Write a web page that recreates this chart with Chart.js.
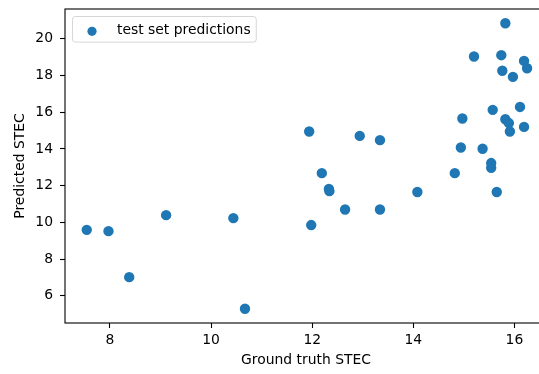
<!DOCTYPE html>
<html>
<head>
<meta charset="utf-8">
<script src="https://cdn.jsdelivr.net/npm/chart.js@4.4.0/dist/chart.umd.min.js"></script>
<style>
  html, body { margin: 0; padding: 0; background: #fff; overflow: hidden; width: 539px; height: 374px; }
  canvas { display: block; }
</style>
</head>
<body>
<canvas id="chart" width="560" height="374"></canvas>
<script>
// Ground truth vs predicted STEC for the test set
const groundTruth = [
  7.54, 7.97, 8.38, 9.11, 10.44, 10.67, 11.94, 11.98, 12.19, 12.33,
  12.34, 12.65, 12.94, 13.34, 13.34, 14.08, 14.82, 14.94, 14.97, 15.20,
  15.37, 15.54, 15.54, 15.57, 15.65, 15.74, 15.76, 15.82, 15.82, 15.89,
  15.91, 15.97, 16.11, 16.19, 16.19, 16.25
];
const predicted = [
  9.59, 9.52, 7.01, 10.39, 10.23, 5.29, 14.95, 9.85, 12.68, 11.82,
  11.70, 10.70, 14.71, 14.48, 10.70, 11.65, 12.68, 14.08, 15.66, 19.04,
  14.01, 13.23, 12.97, 16.13, 11.65, 19.11, 18.26, 20.85, 15.62, 15.41,
  14.95, 17.93, 16.29, 18.80, 15.20, 18.40
];
const xTicks = [8, 10, 12, 14, 16];
const yTicks = [6, 8, 10, 12, 14, 16, 18, 20];
const xLimits = [7.11, 16.644];
const yLimits = [4.512, 21.628];
const seriesLabel = 'test set predictions';
const xTitle = 'Ground truth STEC';
const yTitle = 'Predicted STEC';

const FONT = '"DejaVu Sans", sans-serif';
const FS = 13.9;
const BLUE = '#1f77b4';

// axes box drawn on all four sides, above the points
const frame = {
  id: 'frame',
  afterDatasetsDraw(chart) {
    const { ctx, chartArea: a } = chart;
    ctx.save();
    ctx.strokeStyle = '#000';
    ctx.lineWidth = 1.1;
    ctx.strokeRect(a.left, a.top, a.right - a.left, a.bottom - a.top);
    ctx.restore();
  }
};

// legend box in the upper left corner of the plot area
const innerLegend = {
  id: 'innerLegend',
  afterDraw(chart) {
    const { ctx, chartArea: a } = chart;
    const ds = chart.data.datasets[0];
    ctx.save();
    ctx.font = `${FS}px ${FONT}`;
    const tw = ctx.measureText(ds.label).width;
    const x0 = a.left + 7.5, y0 = a.top + 7.5;
    const w = 5.6 + 27.8 + 11.1 + tw + 5.6;
    const h = 25.6;
    const r = 2.8;
    ctx.beginPath();
    ctx.moveTo(x0 + r, y0);
    ctx.arcTo(x0 + w, y0, x0 + w, y0 + h, r);
    ctx.arcTo(x0 + w, y0 + h, x0, y0 + h, r);
    ctx.arcTo(x0, y0 + h, x0, y0, r);
    ctx.arcTo(x0, y0, x0 + w, y0, r);
    ctx.closePath();
    ctx.fillStyle = 'rgba(255,255,255,0.8)';
    ctx.fill();
    ctx.strokeStyle = 'rgba(204,204,204,0.8)';
    ctx.lineWidth = 1;
    ctx.stroke();
    const cy = y0 + h / 2 + 1;
    ctx.beginPath();
    ctx.arc(x0 + 5.6 + 13.9, cy + 1, 4.6, 0, Math.PI * 2);
    ctx.fillStyle = ds.backgroundColor;
    ctx.fill();
    ctx.fillStyle = '#000';
    ctx.textBaseline = 'middle';
    ctx.textAlign = 'left';
    ctx.fillText(ds.label, x0 + 5.6 + 27.8 + 11.1, cy);
    ctx.restore();
  }
};

const tickFont = { family: FONT, size: FS };

new Chart(document.getElementById('chart'), {
  type: 'scatter',
  data: {
    datasets: [{
      label: seriesLabel,
      data: groundTruth.map((x, i) => ({ x, y: predicted[i] })),
      backgroundColor: BLUE,
      borderColor: BLUE,
      pointRadius: 4.2,
      pointBorderWidth: 2,
      pointHoverRadius: 4.2
    }]
  },
  options: {
    responsive: false,
    animation: false,
    devicePixelRatio: 1,
    layout: { padding: { top: 9, right: 13, left: 0, bottom: 0 } },
    plugins: { legend: { display: false }, tooltip: { enabled: false } },
    scales: {
      x: {
        type: 'linear',
        min: xLimits[0],
        max: xLimits[1],
        afterBuildTicks: s => { s.ticks = xTicks.map(v => ({ value: v })); },
        afterFit: s => { s.height = 51; s.paddingLeft = 0; s.paddingRight = 0; },
        grid: { display: true, drawOnChartArea: false, drawTicks: true, tickLength: 5, tickWidth: 1.1, tickColor: '#000' },
        border: { display: false },
        ticks: { color: '#000', font: tickFont, padding: 4, maxRotation: 0, autoSkip: false },
        title: { display: true, text: xTitle, color: '#000', font: tickFont, padding: { top: 0, bottom: 5 } }
      },
      y: {
        type: 'linear',
        min: yLimits[0],
        max: yLimits[1],
        afterBuildTicks: s => { s.ticks = yTicks.map(v => ({ value: v })); },
        afterFit: s => { s.width = 65; s.paddingTop = 0; s.paddingBottom = 0; },
        grid: { display: true, drawOnChartArea: false, drawTicks: true, tickLength: 5, tickWidth: 1.1, tickColor: '#000' },
        border: { display: false },
        ticks: { color: '#000', font: tickFont, padding: 7, autoSkip: false },
        title: { display: true, text: yTitle, color: '#000', font: tickFont, padding: { top: 12, bottom: 0 } }
      }
    }
  },
  plugins: [frame, innerLegend]
});
</script>
</body>
</html>
